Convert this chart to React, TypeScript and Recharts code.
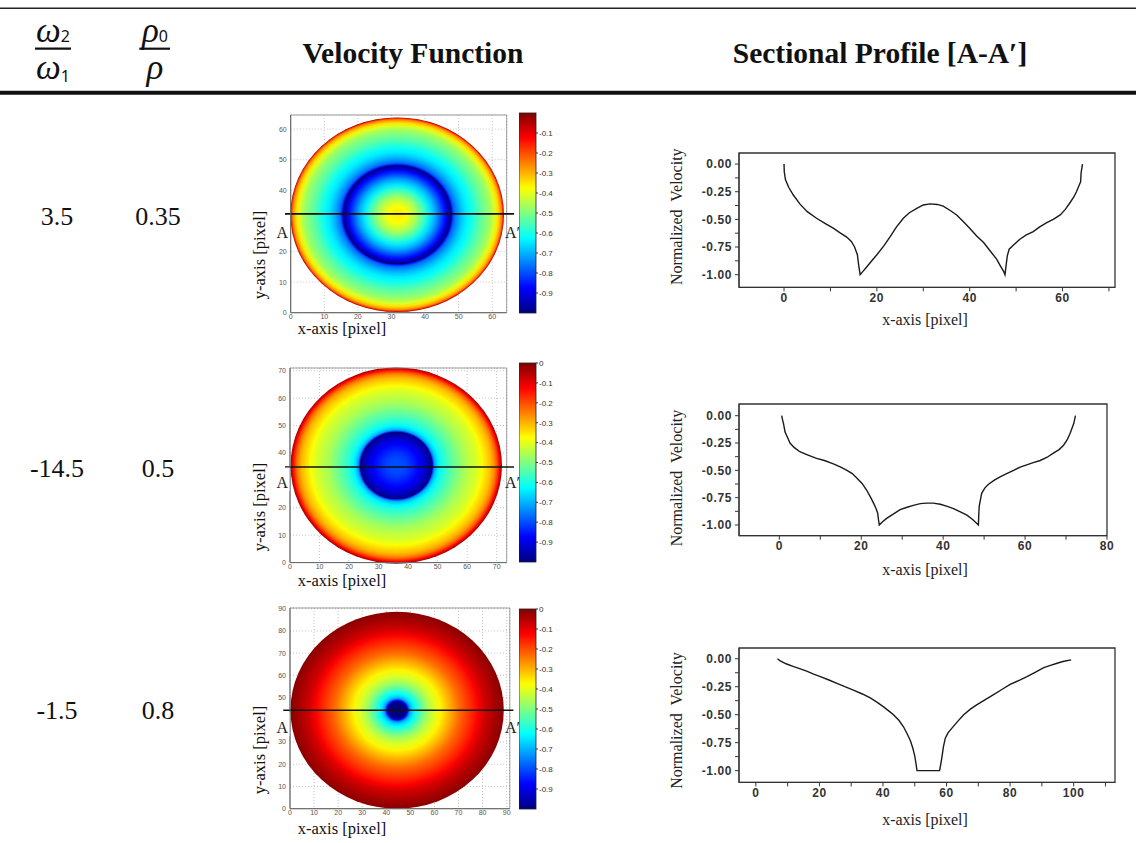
import React from 'react';
import {
  ComposedChart,
  LineChart,
  Line,
  XAxis,
  YAxis,
  CartesianGrid,
  ReferenceArea,
  ReferenceLine,
} from 'recharts';

// ---------------- table text ----------------
const omegaRatios = ['3.5', '-14.5', '-1.5'];
const rhoRatios = ['0.35', '0.5', '0.8'];
const headerVelocity = 'Velocity Function';
const headerProfile = 'Sectional Profile [A-A\u2032]';

// ---------------- sectional profiles [x pixel, normalized velocity] ----------------
const profile1: [number, number][] = [
  [0, 0], [0.05, -0.07], [0.3, -0.14], [1, -0.21], [2, -0.28], [3.4, -0.36], [5, -0.43], [7, -0.49],
  [9, -0.54], [10.6, -0.58], [12, -0.62], [13.5, -0.66], [14.5, -0.7], [15.2, -0.75], [15.8, -0.82],
  [16.1, -0.92], [16.4, -1.0], [17, -0.97], [17.8, -0.93], [19, -0.87], [20, -0.82], [21.5, -0.74],
  [22.8, -0.66], [24.2, -0.57], [25.7, -0.49], [27, -0.44], [28.6, -0.4], [30, -0.37], [31.5, -0.36],
  [33, -0.365], [34.3, -0.38], [35.8, -0.42], [37.2, -0.46], [38.6, -0.52], [40, -0.58], [41.5, -0.65],
  [43, -0.71], [44.5, -0.79], [45.8, -0.86], [46.6, -0.92], [47.3, -0.97], [47.6, -1.0], [47.8, -0.93],
  [48.1, -0.83], [48.5, -0.77], [49.5, -0.73], [50.8, -0.68], [52.2, -0.64], [53.7, -0.61], [55, -0.57],
  [56.6, -0.53], [58, -0.5], [59.5, -0.46], [60.6, -0.41], [61.6, -0.35], [62.4, -0.3], [63, -0.25],
  [63.6, -0.19], [63.9, -0.16], [64.0, -0.08], [64.3, 0],
];
const profile2: [number, number][] = [
  [0.57, 0], [0.8, -0.04], [1, -0.07], [1.4, -0.15], [2, -0.2], [2.6, -0.25], [3.6, -0.29], [5, -0.33],
  [7, -0.36], [9.1, -0.39], [11, -0.41], [13.2, -0.44], [15, -0.47], [16.5, -0.5], [17.8, -0.53],
  [18.9, -0.57], [20.2, -0.62], [21.3, -0.68], [22.2, -0.74], [23, -0.8], [23.6, -0.85], [24, -0.89],
  [24.2, -0.95], [24.4, -1.0], [25.2, -0.97], [26.2, -0.94], [27.8, -0.9], [29.5, -0.86], [31, -0.84],
  [32.7, -0.82], [34.4, -0.805], [36, -0.8], [37.6, -0.8], [39.3, -0.81], [41, -0.83], [42.5, -0.85],
  [44.2, -0.88], [45.8, -0.91], [47.2, -0.95], [48.6, -1.0], [48.7, -0.9], [48.8, -0.83], [49.4, -0.71],
  [50.2, -0.66], [51, -0.63], [52.5, -0.59], [53.9, -0.56], [55.5, -0.53], [57.2, -0.5], [58.8, -0.47],
  [60.4, -0.45], [62, -0.43], [63.7, -0.41], [65.4, -0.38], [67, -0.34], [68.3, -0.31], [69.4, -0.27],
  [70.3, -0.22], [71, -0.16], [71.5, -0.11], [71.9, -0.07], [72.3, 0],
];
const profile3: [number, number][] = [
  [6.8, 0], [7.7, -0.02], [9.5, -0.045], [11.9, -0.07], [14, -0.09], [16, -0.11], [18, -0.135],
  [20.3, -0.16], [23, -0.19], [25.5, -0.22], [28, -0.25], [30.7, -0.28], [33.5, -0.315], [36, -0.35],
  [38.2, -0.39], [40.2, -0.43], [42, -0.47], [43.3, -0.5], [45, -0.55], [46.5, -0.61], [47.6, -0.67],
  [48.6, -0.73], [49.4, -0.8], [50, -0.87], [50.4, -0.94], [50.7, -1.0], [57.8, -1.0], [58.2, -0.94],
  [58.6, -0.87], [59, -0.79], [59.6, -0.71], [60.5, -0.66], [61.7, -0.62], [63.5, -0.56], [65.4, -0.5],
  [67.5, -0.45], [69.6, -0.41], [72.2, -0.365], [74.8, -0.32], [77.4, -0.275], [80, -0.23],
  [82.7, -0.195], [85.3, -0.16], [88, -0.12], [90.6, -0.08], [92.7, -0.06], [94.8, -0.04],
  [96.6, -0.025], [99.2, -0.01],
];

// ---------------- velocity function: radial rings [radius, normalized velocity] ----------------
const field1Rings: [number, number][] = [
  [0, -0.36], [1.5, -0.365], [2.7, -0.38], [4.2, -0.42], [5.6, -0.46], [7, -0.52], [8.4, -0.58],
  [9.9, -0.65], [11.4, -0.71], [12.9, -0.79], [14.2, -0.86], [15.0, -0.92], [15.7, -0.97], [16.0, -1.0],
  [16.2, -0.93], [16.5, -0.83], [17, -0.77], [17.9, -0.73], [19.2, -0.68], [20.6, -0.64], [22.1, -0.61],
  [23.4, -0.57], [25, -0.53], [26.4, -0.5], [27.9, -0.46], [29, -0.41], [29.9, -0.35], [30.6, -0.3],
  [31.1, -0.25], [31.5, -0.16], [31.8, 0],
];
const field2Rings: [number, number][] = [
  [0, -0.8], [1.6, -0.8], [3.3, -0.81], [4.9, -0.83], [6.1, -0.85], [7.8, -0.88], [9.4, -0.91],
  [10.8, -0.95], [12.2, -1.0], [12.3, -0.9], [12.4, -0.83], [13, -0.71], [13.8, -0.66], [14.6, -0.63],
  [16, -0.59], [17.5, -0.56], [19.1, -0.53], [20.8, -0.5], [22.4, -0.47], [24, -0.45], [25.6, -0.43],
  [27.3, -0.41], [29, -0.38], [30.6, -0.34], [31.9, -0.31], [33, -0.27], [33.9, -0.22], [34.6, -0.16],
  [35.1, -0.11], [35.5, -0.07], [35.8, 0],
];
const field3Rings: [number, number][] = [
  [0, -1.0], [3.5, -1.0], [4.0, -0.94], [4.4, -0.87], [4.8, -0.79], [5.4, -0.71], [6.3, -0.66],
  [7.5, -0.62], [9.2, -0.56], [11.2, -0.5], [13.2, -0.45], [15.4, -0.41], [18, -0.365], [20.6, -0.32],
  [23.2, -0.275], [25.8, -0.23], [28.5, -0.195], [31.1, -0.16], [33.8, -0.12], [36.4, -0.08],
  [38.5, -0.06], [40.6, -0.04], [42.4, -0.025], [44.3, -0.01],
];
const field1Center: [number, number] = [31.7, 32];
const field2Center: [number, number] = [36, 35.4];
const field3Center: [number, number] = [44.5, 44.3];

// ---------------- ticks ----------------
const field1Ticks = [0, 10, 20, 30, 40, 50, 60];
const field2Ticks = [0, 10, 20, 30, 40, 50, 60, 70];
const field3Ticks = [0, 10, 20, 30, 40, 50, 60, 70, 80, 90];
// y tick labels covered by the "A" annotation in the reference
const field1HiddenY = [30];
const field2HiddenY = [30];
const field3HiddenY = [40];
const colorbarTicksNoZero = [-0.9, -0.8, -0.7, -0.6, -0.5, -0.4, -0.3, -0.2, -0.1];
const colorbarTicksZero = [-0.9, -0.8, -0.7, -0.6, -0.5, -0.4, -0.3, -0.2, -0.1, 0];
const profile1XTicks = [0, 10, 20, 30, 40, 50, 60, 70];
const profile2XTicks = [0, 10, 20, 30, 40, 50, 60, 70, 80];
const profile3XTicks = [0, 10, 20, 30, 40, 50, 60, 70, 80, 90, 100, 110];
const profileYTicks = [0, -0.125, -0.25, -0.375, -0.5, -0.625, -0.75, -0.875, -1];
const jetStops = [0, 0.125, 0.375, 0.625, 0.875, 1];

// ---------------- helpers ----------------
const SERIF = '"Liberation Serif", "Times New Roman", serif';
const SANS = '"Liberation Sans", Arial, sans-serif';

const jet = (v: number) => {
  const t = Math.min(1, Math.max(0, v + 1));
  const c = (x: number) => Math.round(255 * Math.min(1, Math.max(0, 1.5 - Math.abs(x))));
  return `rgb(${c(4 * t - 3)},${c(4 * t - 2)},${c(4 * t - 1)})`;
};

const Disc = (props: any) => {
  const { x, y, width, height, gid, rings } = props;
  const R = rings[rings.length - 1][0];
  const w = Math.abs(width);
  const h = Math.abs(height);
  const left = Math.min(x, x + width);
  const top = Math.min(y, y + height);
  return (
    <g>
      <defs>
        <radialGradient id={gid} cx="50%" cy="50%" r="50%" fx="50%" fy="50%">
          {rings.map(([r, v]: [number, number], i: number) => (
            <stop key={i} offset={r / R} stopColor={jet(v)} />
          ))}
        </radialGradient>
      </defs>
      <ellipse cx={left + w / 2} cy={top + h / 2} rx={w / 2} ry={h / 2} fill={`url(#${gid})`} />
    </g>
  );
};

const ColorbarRect = (props: any) => {
  const { x, y, width, height, gid } = props;
  const w = Math.abs(width);
  const h = Math.abs(height);
  const left = Math.min(x, x + width);
  const top = Math.min(y, y + height);
  return (
    <g>
      <defs>
        <linearGradient id={gid} x1="0" y1="1" x2="0" y2="0">
          {jetStops.map((t, i) => (
            <stop key={i} offset={t} stopColor={jet(t - 1)} />
          ))}
        </linearGradient>
      </defs>
      <rect x={left} y={top} width={w} height={h} fill={`url(#${gid})`} stroke="#222" strokeWidth={0.8} />
    </g>
  );
};

type Plot = { left: number; right: number; top: number; bottom: number };

const FieldChart = ({
  id, plot, xMax, yMax, ticksX, ticksY, hiddenY, center, rings, lineY, lineX,
}: {
  id: string; plot: Plot; xMax: number; yMax: number; ticksX: number[]; ticksY: number[]; hiddenY: number[];
  center: [number, number]; rings: [number, number][]; lineY: number; lineX: [number, number];
}) => {
  const L = 258;
  const T = plot.top - 6;
  const width = plot.right + 10 - L;
  const height = plot.bottom + 14 - T;
  const R = rings[rings.length - 1][0];
  const tickStyle = { fontSize: 7, fill: '#555', fontFamily: SANS };
  return (
    <div style={{ position: 'absolute', left: L, top: T }}>
      <ComposedChart width={width} height={height} margin={{ top: 6, right: 10, left: 0, bottom: 0 }}>
        <CartesianGrid stroke="#c4c4c4" strokeDasharray="1 2" />
        <XAxis
          type="number" dataKey="x" domain={[0, xMax]} allowDataOverflow ticks={ticksX} interval={0}
          height={14} tickLine={false} tickSize={0} axisLine={{ stroke: '#666' }} tick={tickStyle} tickMargin={1}
        />
        <YAxis
          type="number" dataKey="y" domain={[0, yMax]} allowDataOverflow ticks={ticksY} interval={0}
          width={plot.left - L} tickLine={false} tickSize={0} axisLine={{ stroke: '#666' }} tick={tickStyle} tickMargin={4}
          tickFormatter={(v: number) => (hiddenY.includes(v) ? '' : String(v))}
        />
        <ReferenceArea
          x1={center[0] - R} x2={center[0] + R} y1={center[1] - R} y2={center[1] + R}
          ifOverflow="visible"
          shape={(p: any) => <Disc {...p} gid={`disc-${id}`} rings={rings} />}
        />
        <ReferenceArea x1={0} x2={xMax} y1={0} y2={yMax} fill="none" stroke="#888" strokeWidth={0.8} ifOverflow="visible" />
        <ReferenceLine
          segment={[{ x: lineX[0], y: lineY }, { x: lineX[1], y: lineY }]}
          stroke="#111" strokeWidth={1.6} ifOverflow="visible"
        />
      </ComposedChart>
    </div>
  );
};

const CB_PAD = 6;
const Colorbar = ({ id, top, bottom, ticks }: { id: string; top: number; bottom: number; ticks: number[] }) => (
  <div style={{ position: 'absolute', left: 519, top: top - CB_PAD }}>
    <ComposedChart width={62} height={bottom - top + 2 * CB_PAD} margin={{ top: CB_PAD, right: 0, left: 0, bottom: CB_PAD }}>
      <XAxis
        type="number" dataKey="x" domain={[0, 1]} allowDataOverflow height={0}
        tick={false} tickLine={false} axisLine={false}
      />
      <YAxis
        type="number" dataKey="y" orientation="right" domain={[-1, 0]} allowDataOverflow ticks={ticks}
        interval={0} width={45} axisLine={false} tickSize={2} tickMargin={1}
        tickLine={{ stroke: '#333' }}
        tick={{ fontSize: 8, fill: '#333', fontFamily: SANS }}
        tickFormatter={(v: number) => (v === 0 ? '0' : v.toFixed(1))}
      />
      <ReferenceArea
        x1={0} x2={1} y1={-1} y2={0} ifOverflow="visible"
        shape={(p: any) => <ColorbarRect {...p} gid={`cb-${id}`} />}
      />
    </ComposedChart>
  </div>
);

const ProfileChart = ({
  plot, points, xDomain, yDomain, xTicks,
}: {
  plot: Plot; points: [number, number][]; xDomain: [number, number]; yDomain: [number, number]; xTicks: number[];
}) => {
  const data = points.map(([x, v]) => ({ x, v }));
  const L = 680;
  const T = plot.top - 10;
  const width = plot.right + 12 - L;
  const height = plot.bottom + 30 - T;
  const tickStyle = { fontSize: 12, fontWeight: 700, fill: '#333', fontFamily: SANS, letterSpacing: 0.6 };
  return (
    <div style={{ position: 'absolute', left: L, top: T }}>
      <LineChart width={width} height={height} data={data} margin={{ top: 10, right: 12, left: 0, bottom: 0 }}>
        <XAxis
          type="number" dataKey="x" domain={xDomain} allowDataOverflow ticks={xTicks} interval={0}
          height={30} tickSize={4} tickMargin={2} stroke="#333" tick={tickStyle}
          tickFormatter={(v: number) => (v % 20 === 0 ? String(v) : '')}
        />
        <YAxis
          type="number" domain={yDomain} allowDataOverflow ticks={profileYTicks} interval={0}
          width={plot.left - L} tickSize={4} tickMargin={3} stroke="#333" tick={tickStyle}
          tickFormatter={(v: number) =>
            Math.abs(v * 4 - Math.round(v * 4)) < 1e-6 ? (v === 0 ? '0.00' : v.toFixed(2)) : ''
          }
        />
        <ReferenceArea
          x1={xDomain[0]} x2={xDomain[1]} y1={yDomain[0]} y2={yDomain[1]}
          fill="none" stroke="#333" strokeWidth={1.3} ifOverflow="visible"
        />
        <Line
          dataKey="v" type="linear" stroke="#1a1a1a" strokeWidth={1.4} dot={false}
          isAnimationActive={false}
        />
      </LineChart>
    </div>
  );
};

// ---------------- layout ----------------
const fieldRows = [
  {
    id: 'f1', plot: { left: 290.7, right: 506.7, top: 115, bottom: 312.7 }, xMax: 64.3, yMax: 64.6,
    ticks: field1Ticks, hiddenY: field1HiddenY, center: field1Center, rings: field1Rings, lineY: 32.3,
    lineX: [-1.7, 66.5] as [number, number], cbTop: 113, cbBottom: 313, cbTicks: colorbarTicksNoZero,
  },
  {
    id: 'f2', plot: { left: 290, right: 506.7, top: 367.7, bottom: 562.3 }, xMax: 73.4, yMax: 71,
    ticks: field2Ticks, hiddenY: field2HiddenY, center: field2Center, rings: field2Rings, lineY: 34.9,
    lineX: [-1.7, 75.9] as [number, number], cbTop: 363, cbBottom: 562, cbTicks: colorbarTicksZero,
  },
  {
    id: 'f3', plot: { left: 290, right: 509.8, top: 608.3, bottom: 809 }, xMax: 91.3, yMax: 90.3,
    ticks: field3Ticks, hiddenY: field3HiddenY, center: field3Center, rings: field3Rings, lineY: 44.3,
    lineX: [-2.8, 92.8] as [number, number], cbTop: 609, cbBottom: 809, cbTicks: colorbarTicksZero,
  },
];

const profileRows = [
  { plot: { left: 739, right: 1115, top: 153.3, bottom: 287.7 }, points: profile1, xDomain: [-9.7, 71.3] as [number, number], yDomain: [-1.115, 0.1] as [number, number], xTicks: profile1XTicks },
  { plot: { left: 739, right: 1107, top: 404, bottom: 535.7 }, points: profile2, xDomain: [-9.85, 80] as [number, number], yDomain: [-1.098, 0.107] as [number, number], xTicks: profile2XTicks },
  { plot: { left: 739, right: 1115, top: 648.3, bottom: 782.7 }, points: profile3, xDomain: [-5.3, 113] as [number, number], yDomain: [-1.105, 0.096] as [number, number], xTicks: profile3XTicks },
];

const rowBaselines = [225, 477, 719];
const fieldXLabelBaselines = [334, 585.5, 834];
const fieldYLabelCenters = [255, 507, 750];
const aLabelBaselines = [238, 488.3, 733.3];
const aLineTops = [215, 467.7, 712];
const profileYLabelCenters = [216.7, 478, 720.5];
const profileXLabelBaselines = [325, 575, 825];

const MathFrac = ({ cx, num, sub, den, denSub, barX1, barX2 }: {
  cx: number; num: string; sub: string; den: string; denSub?: string; barX1: number; barX2: number;
}) => (
  <g fill="#111">
    <text x={cx} y={42} textAnchor="middle">
      <tspan fontStyle="italic" fontSize={35} fontFamily={SERIF}>{num}</tspan>
      <tspan fontSize={16} fontFamily='"Noto Sans", sans-serif'>{sub}</tspan>
    </text>
    <line x1={barX1} x2={barX2} y1={48.7} y2={48.7} stroke="#111" strokeWidth={2.2} />
    <text x={cx} y={79} textAnchor="middle">
      <tspan fontStyle="italic" fontSize={35} fontFamily={SERIF}>{den}</tspan>
      {denSub ? (
        <tspan fontSize={16} dy={3} fontFamily='"Noto Sans", sans-serif'>{denSub}</tspan>
      ) : null}
    </text>
  </g>
);

export default function App() {
  return (
    <div style={{ position: 'absolute', left: 0, top: 0, width: 1136, height: 843, background: '#fff', overflow: 'hidden' }}>
      {fieldRows.map((r) => (
        <React.Fragment key={r.id}>
          <FieldChart
            id={r.id} plot={r.plot} xMax={r.xMax} yMax={r.yMax} ticksX={r.ticks} ticksY={r.ticks} hiddenY={r.hiddenY}
            center={r.center} rings={r.rings} lineY={r.lineY} lineX={r.lineX}
          />
          <Colorbar id={r.id} top={r.cbTop} bottom={r.cbBottom} ticks={r.cbTicks} />
        </React.Fragment>
      ))}
      {profileRows.map((r, i) => (
        <ProfileChart key={i} plot={r.plot} points={r.points} xDomain={r.xDomain} yDomain={r.yDomain} xTicks={r.xTicks} />
      ))}
      <svg width={1136} height={843} style={{ position: 'absolute', left: 0, top: 0, pointerEvents: 'none' }}>
        <line x1={0} x2={1136} y1={8.3} y2={8.3} stroke="#222" strokeWidth={1.5} />
        <line x1={0} x2={1136} y1={92.7} y2={92.7} stroke="#111" strokeWidth={4} />
        <MathFrac cx={53} num="ω" sub="2" den="ω" denSub="1" barX1={35} barX2={71} />
        <MathFrac cx={155} num="ρ" sub="0" den="ρ" barX1={139.3} barX2={170} />
        <text x={413} y={63} textAnchor="middle" fontFamily={SERIF} fontWeight={700} fontSize={29.5} fill="#111">{headerVelocity}</text>
        <text x={880} y={63} textAnchor="middle" fontFamily={SERIF} fontWeight={700} fontSize={29.5} fill="#111">{headerProfile}</text>
        {omegaRatios.map((s, i) => (
          <text key={`o${i}`} x={57} y={rowBaselines[i]} textAnchor="middle" fontFamily={SERIF} fontSize={26} fill="#111">{s}</text>
        ))}
        {rhoRatios.map((s, i) => (
          <text key={`r${i}`} x={158} y={rowBaselines[i]} textAnchor="middle" fontFamily={SERIF} fontSize={26} fill="#111">{s}</text>
        ))}
        {fieldXLabelBaselines.map((b, i) => (
          <text key={`fx${i}`} x={342} y={b} textAnchor="middle" fontFamily={SERIF} fontSize={16.5} fill="#111">x-axis [pixel]</text>
        ))}
        {fieldYLabelCenters.map((c, i) => (
          <text key={`fy${i}`} x={0} y={0} transform={`translate(265 ${c}) rotate(-90)`} textAnchor="middle" fontFamily={SERIF} fontSize={16.5} fill="#111">y-axis [pixel]</text>
        ))}
        {aLabelBaselines.map((b, i) => (
          <React.Fragment key={`a${i}`}>
            <rect x={274} y={aLineTops[i]} width={15.5} height={b + 3 - aLineTops[i]} fill="#fff" />
            <text x={276.5} y={b} fontFamily={SERIF} fontSize={16} fill="#222">A</text>
            <text x={505} y={b} fontFamily={SERIF} fontSize={16} fill="#222">A′</text>
          </React.Fragment>
        ))}
        {profileYLabelCenters.map((c, i) => (
          <text key={`py${i}`} x={0} y={0} transform={`translate(682 ${c}) rotate(-90)`} textAnchor="middle" fontFamily={SERIF} fontSize={16} fill="#222" style={{ whiteSpace: 'pre' }}>{'Normalized  Velocity'}</text>
        ))}
        {profileXLabelBaselines.map((b, i) => (
          <text key={`px${i}`} x={925} y={b} textAnchor="middle" fontFamily={SERIF} fontSize={16} fill="#222">x-axis [pixel]</text>
        ))}
      </svg>
    </div>
  );
}
